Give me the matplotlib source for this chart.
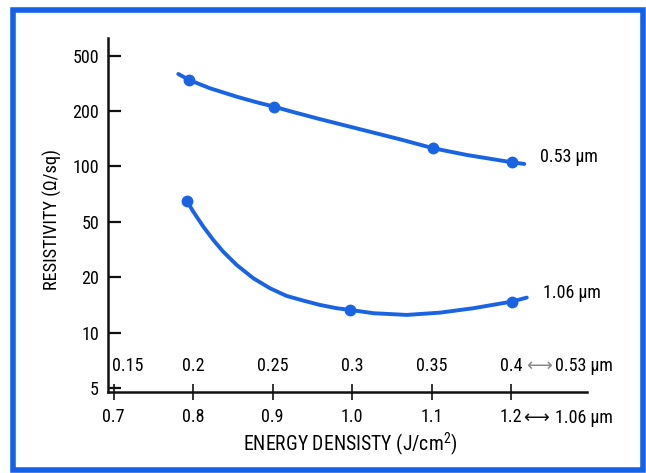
import numpy as np
import matplotlib
matplotlib.use('Agg')
import matplotlib.pyplot as plt
from matplotlib import font_manager as fm
from matplotlib.patches import Rectangle

# ---------------- data ----------------
x_ticks = [0.7, 0.8, 0.9, 1.0, 1.1, 1.2]
x_labels_106 = ['0.7', '0.8', '0.9', '1.0', '1.1', '1.2']
x_labels_053 = ['0.15', '0.2', '0.25', '0.3', '0.35', '0.4']
y_ticks = [5, 10, 20, 50, 100, 200, 500]
y_labels = ['5', '10', '20', '50', '100', '200', '500']

pts053_x = [0.795, 0.902, 1.102, 1.201]
pts053_y = [334, 215, 125.6, 105.4]
curve053_x = [0.7814, 0.7952, 0.8213, 0.8549, 0.8800, 0.9022, 0.9198, 0.9555,
              0.9974, 1.0603, 1.1022, 1.1443, 1.2009, 1.2167]
curve053_y = [369.6, 334.4, 291.7, 253.8, 231.4, 215.0, 201.3, 182.8,
              164.5, 140.5, 125.6, 115.5, 105.4, 103.2]

pts106_x = [0.792, 0.998, 1.201]
pts106_y = [65.2, 13.3, 14.7]
curve106_x = [0.792, 0.8003, 0.8129, 0.8254, 0.838, 0.8549, 0.8758, 0.8968,
              0.9178, 0.9387, 0.9597, 0.9807, 0.9974, 1.0268, 1.0688, 1.1107,
              1.1526, 1.2009, 1.2198]
curve106_y = [65.2, 56.8, 46.2, 37.1, 30.5, 24.5, 19.75, 17.42,
              15.82, 14.93, 14.14, 13.57, 13.29, 12.75, 12.48, 12.84,
              13.57, 14.74, 15.50]

label053 = '0.53 µm'
label106 = '1.06 µm'


# ---------------- font ----------------
def pick_font():
    avail = {f.name for f in fm.fontManager.ttflist}
    for n in ['Liberation Sans Narrow', 'Roboto Condensed', 'Open Sans Condensed',
              'Arial Narrow', 'Nimbus Sans Narrow', 'Noto Sans Display Condensed']:
        if n in avail:
            return n, 'normal'
    for f in fm.fontManager.ttflist:
        if f.name == 'DejaVu Sans' and str(f.stretch) in ('condensed', 'semi-condensed'):
            return 'DejaVu Sans', 'condensed'
    return 'Roboto', 'normal'


FNAME, FSTRETCH = pick_font()
plt.rcParams['font.family'] = [FNAME, 'DejaVu Sans']
plt.rcParams['font.stretch'] = FSTRETCH
plt.rcParams['mathtext.fontset'] = 'custom'
plt.rcParams['mathtext.rm'] = FNAME

BLUE = '#1a64e4'
FS = 13

fig = plt.figure(figsize=(6.46, 4.73), dpi=100)
ax = fig.add_axes([108 / 646, 81 / 473, 479 / 646, 354 / 473])

# equally spaced 1-2-5 resistivity scale (as drawn in the original)
ynodes = [2, 5, 10, 20, 50, 100, 200, 500, 1000]
ypos = np.arange(len(ynodes), dtype=float)


def fwd(v):
    v = np.clip(np.asarray(v, dtype=float), 1e-9, None)
    return np.interp(np.log10(v), np.log10(ynodes), ypos)


def inv(p):
    return 10 ** np.interp(np.asarray(p, dtype=float), ypos, np.log10(ynodes))


ax.set_yscale('function', functions=(fwd, inv))
ax.set_ylim(4.68, 624)
ax.set_xlim(0.693, 1.2956)

ax.plot(curve053_x, curve053_y, color=BLUE, lw=2.8, solid_capstyle='round', solid_joinstyle='round')
ax.plot(pts053_x, pts053_y, 'o', color=BLUE, ms=7.5)
ax.plot(curve106_x, curve106_y, color=BLUE, lw=2.8, solid_capstyle='round', solid_joinstyle='round')
ax.plot(pts106_x, pts106_y, 'o', color=BLUE, ms=7.5)

for s in ['top', 'right']:
    ax.spines[s].set_visible(False)
for s in ['left', 'bottom']:
    ax.spines[s].set_linewidth(1.8)
    ax.spines[s].set_color('#111111')

ax.set_yticks(y_ticks)
ax.set_yticklabels(y_labels, fontsize=FS)
ax.yaxis.set_minor_locator(matplotlib.ticker.NullLocator())
ax.tick_params(axis='y', direction='in', length=9.5, width=1.6, pad=6.5, color='#111111')

ax.set_xticks(x_ticks)
ax.set_xticklabels(x_labels_106, fontsize=FS)
ax.tick_params(axis='x', direction='inout', length=12, width=1.2, pad=5.5, color='#111111')

# upper (0.53 um) energy scale labels
for i, (xv, lab) in enumerate(zip(x_ticks, x_labels_053)):
    ax.annotate(lab, xy=(xv, 0), xycoords=('data', 'axes fraction'),
                xytext=(-1 if i == 0 else 0, 18.5), textcoords='offset points',
                ha='left' if i == 0 else 'center', va='center', fontsize=FS)

ax.annotate('⟷', xy=(x_ticks[-1], 0), xycoords=('data', 'axes fraction'),
            xytext=(11, 18.5), textcoords='offset points', ha='left', va='center',
            fontsize=FS, color='#888888', family=['DejaVu Sans'], stretch='normal')
ax.annotate(label053, xy=(x_ticks[-1], 0), xycoords=('data', 'axes fraction'),
            xytext=(32, 18.5), textcoords='offset points', ha='left', va='center',
            fontsize=FS)
ax.annotate('⟷', xy=(x_ticks[-1], 0), xycoords=('data', 'axes fraction'),
            xytext=(9, -18.5), textcoords='offset points', ha='left', va='center',
            fontsize=FS, color='#111111', family=['DejaVu Sans'], stretch='normal')
ax.annotate(label106, xy=(x_ticks[-1], 0), xycoords=('data', 'axes fraction'),
            xytext=(31.5, -18.5), textcoords='offset points', ha='left', va='center',
            fontsize=FS)

# curve labels
ax.text(1.2365, 112.5, label053, fontsize=FS, ha='left', va='center')
ax.text(1.240, 16.4, label106, fontsize=FS, ha='left', va='center')

ax.set_xlabel('ENERGY DENSISTY (J/cm$^2$)', fontsize=14.2)
ax.xaxis.label.set_va('center')
ax.xaxis.set_label_coords((350 - 108) / 479, -(444 - 392) / 354)
ax.set_ylabel('RESISTIVITY (Ω/sq)', fontsize=13.2)
ax.yaxis.label.set_va('center')
ax.yaxis.set_label_coords(-(108 - 52) / 479, (392 - 219) / 354)

# blue frame
fig.patches.append(Rectangle((13 / 646, 3 / 473), 630 / 646, 460 / 473,
                             transform=fig.transFigure, fill=False,
                             edgecolor='#1560e8', lw=4, zorder=10))

fig.savefig('out.png', dpi=100)
